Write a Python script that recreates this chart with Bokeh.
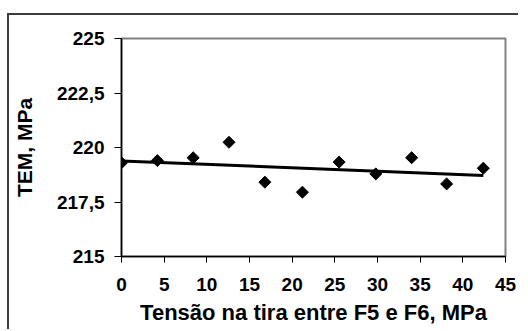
from bokeh.plotting import figure
from bokeh.models import FixedTicker, Range1d
from bokeh.embed import file_html
from bokeh.resources import INLINE
import math

# data
tension = [0, 4.2, 8.4, 12.6, 16.8, 21.2, 25.5, 29.8, 34.0, 38.1, 42.4]
tem = [219.30, 219.40, 219.53, 220.24, 218.41, 217.95, 219.33, 218.79, 219.53, 218.33, 219.05]
trend_x = [0, 42.4]
trend_y = [219.38, 218.72]

x_ticks = [0, 5, 10, 15, 20, 25, 30, 35, 40, 45]
y_ticks = [215, 217.5, 220, 222.5, 225]
y_tick_labels = ["215", "217,5", "220", "222,5", "225"]

FONT = "Liberation Sans"

p = figure(
    frame_width=384, frame_height=218,
    min_border_left=112, min_border_right=13, min_border_top=23, min_border_bottom=73,
    x_range=Range1d(0, 45), y_range=Range1d(215, 225),
    output_backend="svg", toolbar_location=None,
)
# outer chart-area frame (its right and bottom sides fall outside the picture)
p.styles = {"border-top": "2px solid #3c3c3c", "border-left": "2px solid #3c3c3c",
            "margin-top": "13px", "margin-left": "7px", "vertical-align": "top"}

p.background_fill_color = "white"
p.border_fill_color = "white"
p.outline_line_color = "#808080"
p.outline_line_width = 2
p.xgrid.visible = False
p.ygrid.visible = False

p.line(trend_x, trend_y, line_color="black", line_width=3)
p.scatter(tension, tem, marker="square", angle=math.pi / 4, size=8.5,
          fill_color="black", line_color="black")

xa = p.xaxis[0]
xa.ticker = FixedTicker(ticks=x_ticks)
xa.axis_line_color = "black"
xa.axis_line_width = 1.5
xa.major_tick_line_color = "black"
xa.major_tick_in = 0
xa.major_tick_out = 6
xa.minor_tick_line_color = None
xa.major_label_text_font = FONT
xa.major_label_text_font_style = "bold"
xa.major_label_text_font_size = "19px"
xa.major_label_text_color = "black"
xa.major_label_standoff = 15
xa.axis_label = "Tensão na tira entre F5 e F6, MPa"
xa.axis_label_text_font = FONT
xa.axis_label_text_font_style = "bold"
xa.axis_label_text_font_size = "22px"
xa.axis_label_text_color = "black"
xa.axis_label_standoff = 6

ya = p.yaxis[0]
ya.ticker = FixedTicker(ticks=y_ticks)
ya.major_label_overrides = {t: l for t, l in zip(y_ticks, y_tick_labels)}
ya.axis_line_color = "black"
ya.axis_line_width = 1.5
ya.major_tick_line_color = "black"
ya.major_tick_in = 0
ya.major_tick_out = 7
ya.minor_tick_line_color = None
ya.major_label_text_font = FONT
ya.major_label_text_font_style = "bold"
ya.major_label_text_font_size = "19px"
ya.major_label_text_color = "black"
ya.major_label_standoff = 10
ya.axis_label = "TEM, MPa"
ya.axis_label_text_font = FONT
ya.axis_label_text_font_style = "bold"
ya.axis_label_text_font_size = "21px"
ya.axis_label_text_color = "black"
ya.axis_label_standoff = 18

open("out.html", "w").write(file_html(p, INLINE))
